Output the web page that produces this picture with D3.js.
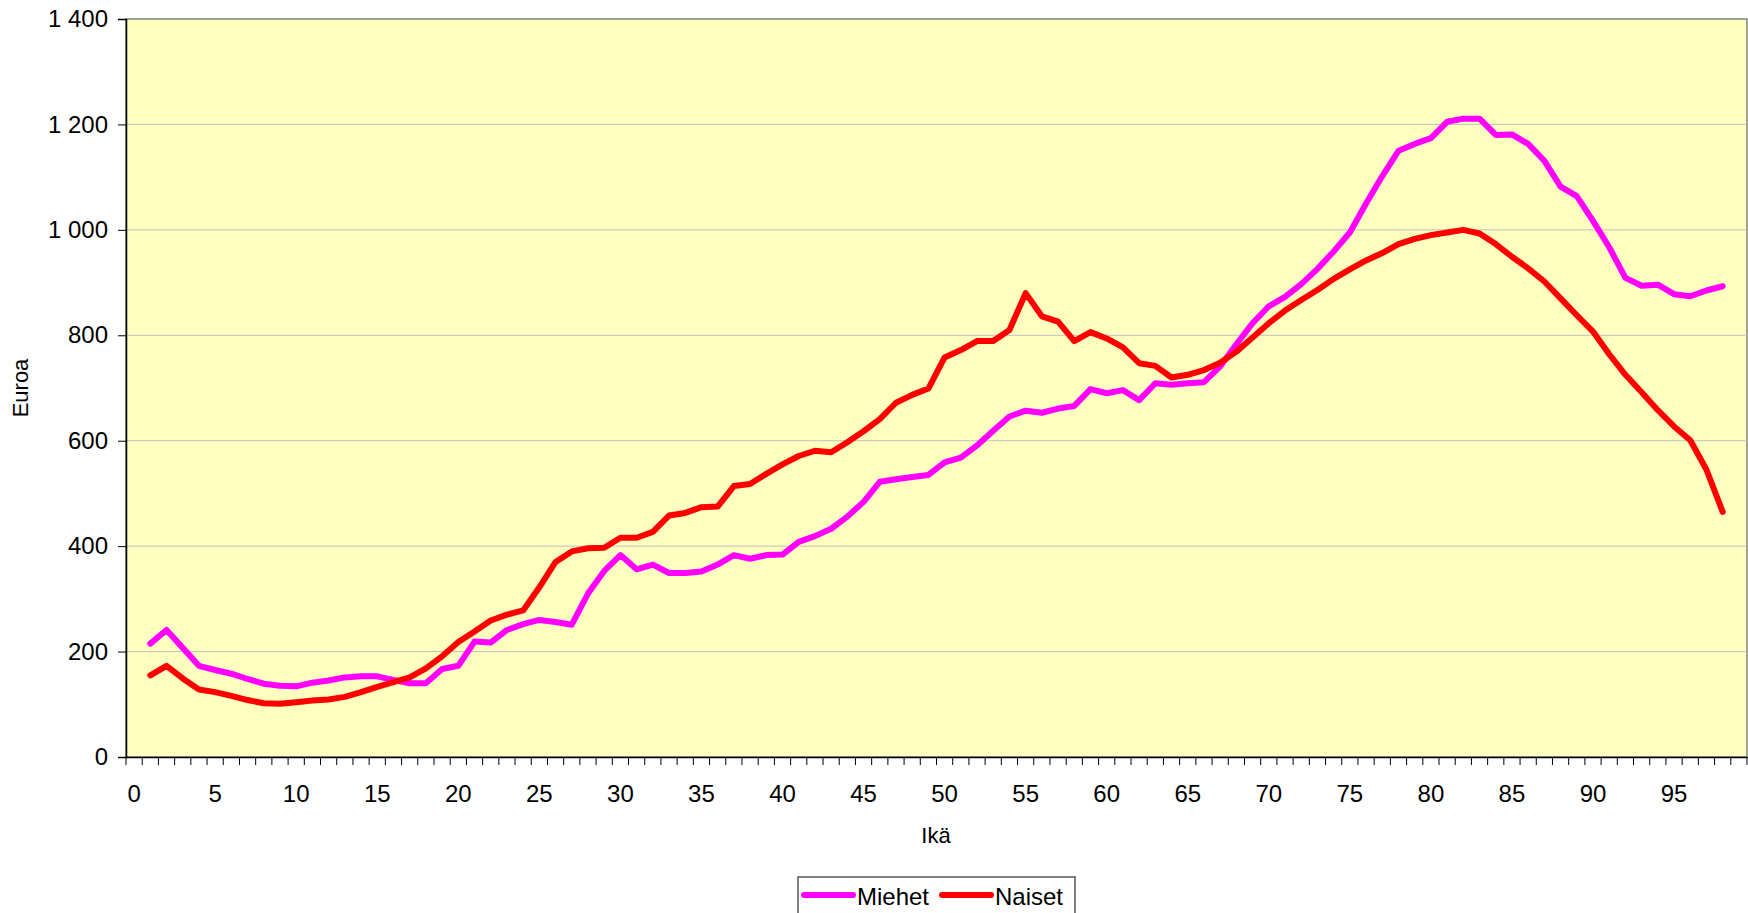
<!DOCTYPE html>
<meta charset="utf-8">
<style>
body { margin: 0; background: #fff; }
svg { display: block; font-family: Arial, "Liberation Sans", sans-serif; }
.grid line { stroke: #c0c0c0; stroke-width: 1px; }
.serie { fill: none; stroke-width: 6px; stroke-linejoin: round; stroke-linecap: round; }
</style>
<svg width="1748" height="913"></svg>
<script src="https://d3js.org/d3.v7.min.js"></script>
<script>

// ikä 0..99 on the category axis, data for ages 1..98
var categories = d3.range(0, 100);
var ages = d3.range(1, 99);
var yTicks = [0, 200, 400, 600, 800, 1000, 1200, 1400];

var miehet = [215, 241, 207, 173, 165, 158, 148, 139, 135, 134,
  141, 145, 151, 153, 153, 146, 140, 140, 167, 173,
  219, 217, 241, 252, 260, 256, 251, 310, 353, 383,
  356, 365, 349, 349, 352, 365, 383, 376, 383, 384,
  408, 419, 433, 456, 484, 522, 527, 531, 535, 559,
  568, 591, 619, 646, 657, 653, 661, 666, 698, 690,
  696, 677, 709, 706, 709, 711, 741, 783, 823, 855,
  873, 897, 926, 959, 995, 1050, 1102, 1150, 1163, 1174,
  1205, 1211, 1211, 1180, 1181, 1163, 1131, 1082, 1064, 1017,
  967, 909, 894, 896, 878, 874, 885, 893];

var naiset = [155, 173, 149, 128, 123, 116, 108, 102, 101, 104,
  107, 109, 114, 123, 133, 142, 151, 168, 191, 218,
  238, 259, 270, 278, 322, 370, 390, 396, 397, 416,
  416, 427, 458, 463, 474, 475, 514, 518, 537, 555,
  571, 581, 578, 597, 618, 641, 672, 687, 699, 758,
  772, 789, 789, 810, 880, 836, 826, 789, 806, 794,
  777, 747, 742, 720, 725, 734, 748, 769, 796, 823,
  847, 867, 886, 907, 925, 942, 956, 973, 983, 990,
  995, 1000, 993, 973, 949, 927, 902, 870, 838, 807,
  764, 725, 692, 658, 627, 601, 545, 465];

var series = [
  { name: "Miehet", color: "#ff00ff", values: miehet },
  { name: "Naiset", color: "#ff0000", values: naiset }
];

var plotLeft = 126, plotRight = 1747, plotTop = 19, plotBottom = 757;

var svg = d3.select("svg");

var x = d3.scaleBand().domain(categories).range([plotLeft, plotRight]);
var y = d3.scaleLinear().domain([0, 1400]).range([plotBottom, plotTop]);

var fi = d3.formatLocale({ decimal: ",", thousands: "\u00a0", grouping: [3], currency: ["", " €"] });
var fmt = fi.format(",d");

// plot area
svg.append("rect")
    .attr("x", plotLeft).attr("y", plotTop)
    .attr("width", plotRight - plotLeft).attr("height", plotBottom - plotTop)
    .attr("fill", "#ffffc0")
    .attr("stroke", "#808080")
    .attr("stroke-width", 1.5);

svg.append("g").attr("class", "grid")
  .selectAll("line")
  .data(yTicks.filter(function(d) { return d > 0 && d < 1400; }))
  .enter().append("line")
    .attr("x1", plotLeft).attr("x2", plotRight)
    .attr("y1", function(d) { return y(d); })
    .attr("y2", function(d) { return y(d); });

// y axis
var yAxis = svg.append("g")
    .attr("transform", "translate(" + plotLeft + ",0)")
    .call(d3.axisLeft(y).tickValues(yTicks).tickFormat(fmt).tickSize(8).tickPadding(10));
yAxis.select(".domain").attr("stroke", "#000").attr("stroke-width", 1.5);
yAxis.selectAll("text").attr("font-size", 24).attr("fill", "#000").attr("font-family", null);

// x axis: ticks between categories, label every fifth age
var edges = categories.map(function(c) { return x(c); }).concat([x.range()[1]]);
svg.append("g").selectAll("line")
  .data(edges)
  .enter().append("line")
    .attr("x1", function(d) { return d; }).attr("x2", function(d) { return d; })
    .attr("y1", plotBottom).attr("y2", plotBottom + 8)
    .attr("stroke", "#000");

var xAxis = svg.append("g")
    .attr("transform", "translate(0," + plotBottom + ")")
    .call(d3.axisBottom(x)
      .tickValues(categories.filter(function(d) { return d % 5 === 0; }))
      .tickSize(0).tickPadding(28));
xAxis.select(".domain").attr("stroke", "#000").attr("stroke-width", 1.5);
xAxis.selectAll("text").attr("font-size", 24).attr("fill", "#000").attr("font-family", null);

// axis titles
svg.append("text")
    .attr("x", 936).attr("y", 843)
    .attr("text-anchor", "middle")
    .attr("font-size", 22)
    .text("Ikä");

svg.append("text")
    .attr("transform", "translate(28,388) rotate(-90)")
    .attr("text-anchor", "middle")
    .attr("font-size", 22)
    .text("Euroa");

// lines
var line = d3.line()
    .x(function(d, i) { return x(ages[i]) + x.bandwidth() / 2; })
    .y(function(d) { return y(d); });

svg.append("g").selectAll("path")
  .data(series)
  .enter().append("path")
    .attr("class", "serie")
    .attr("stroke", function(d) { return d.color; })
    .attr("d", function(d) { return line(d.values); });

// legend
var legend = svg.append("g");
legend.append("rect")
    .attr("x", 798).attr("y", 877)
    .attr("width", 277).attr("height", 50)
    .attr("fill", "#fff")
    .attr("stroke", "#555")
    .attr("stroke-width", 1.5);

var item = legend.selectAll("g.item")
  .data(series)
  .enter().append("g")
    .attr("class", "item")
    .attr("transform", function(d, i) { return "translate(" + (i === 0 ? 804 : 942) + ",0)"; });

item.append("line")
    .attr("x1", 0).attr("x2", 49)
    .attr("y1", 895).attr("y2", 895)
    .attr("stroke", function(d) { return d.color; })
    .attr("stroke-width", 6)
    .attr("stroke-linecap", "round");

item.append("text")
    .attr("x", 53).attr("y", 905)
    .attr("font-size", 24)
    .text(function(d) { return d.name; });

</script>
